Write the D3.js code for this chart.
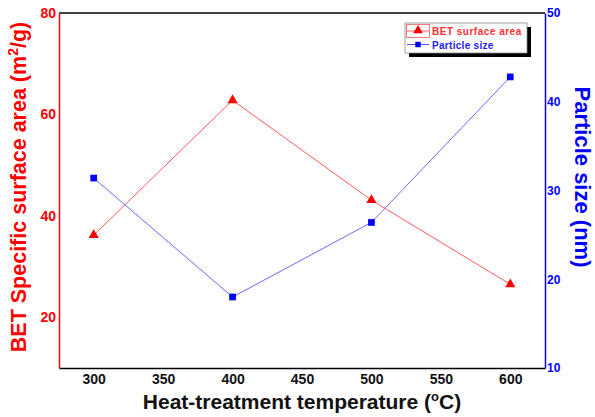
<!DOCTYPE html>
<html>
<head>
<meta charset="utf-8">
<script src="https://cdn.jsdelivr.net/npm/d3@7"></script>
<style>
  body { margin: 0; background: #fff; }
  text { font-family: "Liberation Sans", Arial, sans-serif; font-weight: bold; }
</style>
</head>
<body>
<svg id="chart" width="595" height="417"></svg>
<script>
// values
var temps = [300, 400, 500, 600];
var betArea = [36.2, 62.8, 43.1, 26.5];
var particleSize = [31.4, 18.0, 26.4, 42.8];
var xTicks = [300, 350, 400, 450, 500, 550, 600];
var leftTicks = [20, 40, 60, 80];
var rightTicks = [10, 20, 30, 40, 50];

var svg = d3.select("#chart");
var L = 59, R = 545, T = 13, B = 368;

var x = d3.scaleLinear().domain([275, 625]).range([L, R]);
var yL = d3.scaleLinear().domain([10, 80]).range([B, T]);
var yR = d3.scaleLinear().domain([10, 50]).range([B, T]);

// frame: top and bottom black
svg.append("line").attr("x1", L).attr("x2", R).attr("y1", T).attr("y2", T)
    .attr("stroke", "#000").attr("stroke-width", 1.5);

var gx = svg.append("g").attr("transform", "translate(0," + B + ")")
    .call(d3.axisBottom(x).tickValues(xTicks).tickSize(0).tickPadding(6).tickFormat(d3.format("d")));
gx.select(".domain").attr("stroke", "#000").attr("stroke-width", 1.5);
gx.selectAll("text").attr("font-size", 14).attr("fill", "#111")
    .style("font-family", "'Liberation Sans', Arial, sans-serif").style("font-weight", "bold");

var gl = svg.append("g").attr("transform", "translate(" + L + ",0)")
    .call(d3.axisLeft(yL).tickValues(leftTicks).tickSize(0).tickPadding(3));
gl.select(".domain").attr("stroke", "red").attr("stroke-width", 1.5);
gl.selectAll("text").attr("font-size", 14).attr("fill", "red")
    .style("font-family", "'Liberation Sans', Arial, sans-serif").style("font-weight", "bold");

var gr = svg.append("g").attr("transform", "translate(" + R + ",0)")
    .call(d3.axisRight(yR).tickValues(rightTicks).tickSize(0).tickPadding(2));
gr.select(".domain").attr("stroke", "blue").attr("stroke-width", 1.5);
gr.selectAll("text").attr("font-size", 12).attr("fill", "blue")
    .style("font-family", "'Liberation Sans', Arial, sans-serif").style("font-weight", "bold");

// axis titles
svg.append("text").attr("x", 302).attr("y", 409).attr("text-anchor", "middle")
    .attr("font-size", 21).attr("fill", "#111")
    .html('Heat-treatment temperature (<tspan dy="-8" font-size="13">o</tspan><tspan dy="8">C)</tspan>');

svg.append("text").attr("transform", "translate(26,187) rotate(-90)").attr("text-anchor", "middle")
    .attr("font-size", 21.5).attr("fill", "red")
    .html('BET Specific surface area (m<tspan dy="-8" font-size="14">2</tspan><tspan dy="8">/g)</tspan>');

svg.append("text").attr("transform", "translate(575,177) rotate(90)").attr("text-anchor", "middle")
    .attr("font-size", 22).attr("fill", "blue").text("Particle size (nm)");

// series
var betPts = temps.map(function(t, i) { return [x(t), yL(betArea[i])]; });
var psPts = temps.map(function(t, i) { return [x(t), yR(particleSize[i])]; });

svg.append("path").attr("d", d3.line()(betPts)).attr("fill", "none")
    .attr("stroke", "#ff5a5a").attr("stroke-width", 1);
svg.append("path").attr("d", d3.line()(psPts)).attr("fill", "none")
    .attr("stroke", "#6a6aff").attr("stroke-width", 1);

var tri = d3.symbol().type(d3.symbolTriangle).size(45);
var sq = d3.symbol().type(d3.symbolSquare).size(45);

svg.selectAll(".tri").data(betPts).enter().append("path")
    .attr("transform", function(d) { return "translate(" + d[0] + "," + d[1] + ")"; })
    .attr("d", tri).attr("fill", "red");
svg.selectAll(".sq").data(psPts).enter().append("path")
    .attr("transform", function(d) { return "translate(" + d[0] + "," + d[1] + ")"; })
    .attr("d", sq).attr("fill", "blue");

// legend
var lg = svg.append("g").attr("transform", "translate(405,23)");
lg.append("rect").attr("x", 4).attr("y", 4).attr("width", 122).attr("height", 30).attr("fill", "#000");
lg.append("rect").attr("x", 0).attr("y", 0).attr("width", 122).attr("height", 30)
    .attr("fill", "#fff").attr("stroke", "#888").attr("stroke-width", 0.8);
lg.append("rect").attr("x", 1.5).attr("y", 1.5).attr("width", 23).attr("height", 13)
    .attr("fill", "none").attr("stroke", "#ff5a5a").attr("stroke-width", 0.8);
lg.append("line").attr("x1", 2).attr("x2", 24).attr("y1", 8).attr("y2", 8).attr("stroke", "#ff5a5a");
lg.append("path").attr("transform", "translate(13,7.5)").attr("d", d3.symbol().type(d3.symbolTriangle).size(40)).attr("fill", "red");
lg.append("text").attr("x", 27).attr("y", 12).attr("font-size", 10).attr("letter-spacing", 0.5)
    .attr("fill", "#ff3030").text("BET surface area");
lg.append("line").attr("x1", 2).attr("x2", 24).attr("y1", 21.5).attr("y2", 21.5).attr("stroke", "#5050ff");
lg.append("path").attr("transform", "translate(13,21.5)").attr("d", d3.symbol().type(d3.symbolSquare).size(30)).attr("fill", "blue");
lg.append("text").attr("x", 27).attr("y", 25.5).attr("font-size", 10).attr("letter-spacing", 0.3)
    .attr("fill", "#2020ff").text("Particle size");
</script>
</body>
</html>
